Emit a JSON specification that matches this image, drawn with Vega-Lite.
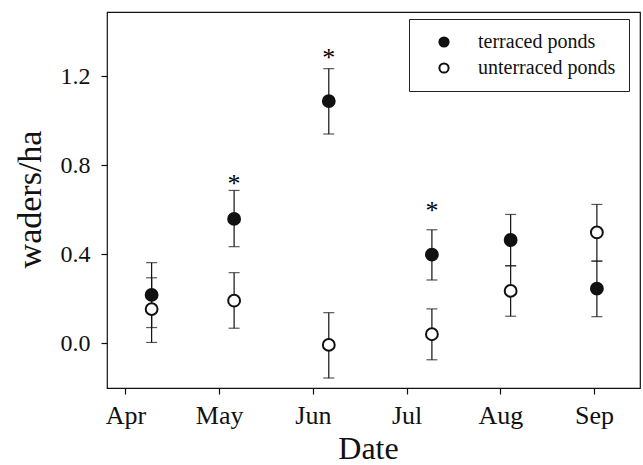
{
  "$schema": "https://vega.github.io/schema/vega-lite/v6.json",
  "width": 533,
  "height": 376,
  "autosize": {"type": "none"},
  "padding": {"left": 107, "top": 12, "right": 3, "bottom": 77},
  "background": "white",
  "config": {
    "font": "Liberation Serif",
    "view": {"stroke": "#111", "strokeWidth": 1.2},
    "axis": {"grid": false, "domain": false, "tickColor": "#111", "tickSize": 6, "tickWidth": 1.2, "labelColor": "#111", "titleColor": "#111", "labelFont": "Liberation Serif", "titleFont": "Liberation Serif", "titleFontWeight": "normal"},
    "legend": {"labelFont": "Liberation Serif"}
  },
  "datasets": {
    "pts": [
      {"series": "terraced ponds", "month": 4.28, "mean": 0.217, "lo": 0.070, "hi": 0.362},
      {"series": "terraced ponds", "month": 5.16, "mean": 0.559, "lo": 0.434, "hi": 0.687},
      {"series": "terraced ponds", "month": 6.17, "mean": 1.089, "lo": 0.941, "hi": 1.235},
      {"series": "terraced ponds", "month": 7.27, "mean": 0.398, "lo": 0.284, "hi": 0.510},
      {"series": "terraced ponds", "month": 8.11, "mean": 0.464, "lo": 0.348, "hi": 0.579},
      {"series": "terraced ponds", "month": 9.03, "mean": 0.245, "lo": 0.119, "hi": 0.369},
      {"series": "unterraced ponds", "month": 4.28, "mean": 0.153, "lo": 0.003, "hi": 0.294},
      {"series": "unterraced ponds", "month": 5.16, "mean": 0.191, "lo": 0.067, "hi": 0.317},
      {"series": "unterraced ponds", "month": 6.17, "mean": -0.008, "lo": -0.157, "hi": 0.137},
      {"series": "unterraced ponds", "month": 7.27, "mean": 0.040, "lo": -0.075, "hi": 0.154},
      {"series": "unterraced ponds", "month": 8.11, "mean": 0.235, "lo": 0.121, "hi": 0.348},
      {"series": "unterraced ponds", "month": 9.03, "mean": 0.498, "lo": 0.369, "hi": 0.624}
    ],
    "stars": [
      {"month": 5.16, "pos": 0.742, "label": "*"},
      {"month": 6.17, "pos": 1.309, "label": "*"},
      {"month": 7.27, "pos": 0.621, "label": "*"}
    ]
  },
  "encoding": {
    "x": {
      "field": "month", "type": "quantitative",
      "scale": {"domain": [3.804, 9.49], "nice": false, "zero": false},
      "axis": {
        "values": [4, 5, 6, 7, 8, 9],
        "labelExpr": "['Apr','May','Jun','Jul','Aug','Sep'][datum.value - 4]",
        "labelFontSize": 26, "labelPadding": 8, "labelFlush": false,
        "title": "Date", "titleFontSize": 32,
        "titleX": 261, "titleY": 70, "titleBaseline": "alphabetic", "titleAlign": "center"
      }
    }
  },
  "layer": [
    {
      "data": {"name": "pts"},
      "mark": {"type": "rule", "color": "#111", "strokeWidth": 1.2},
      "encoding": {
        "y": {
          "field": "lo", "type": "quantitative",
          "scale": {"domain": [-0.202, 1.49], "nice": false, "zero": false},
          "axis": {
            "values": [0, 0.4, 0.8, 1.2], "format": ".1f",
            "labelFontSize": 24, "labelPadding": 11, "labelFlush": false,
            "title": "waders/ha", "titleFontSize": 34,
            "titleX": -67, "titleY": 187, "titleAngle": -90,
            "titleBaseline": "alphabetic", "titleAlign": "center"
          }
        },
        "y2": {"field": "hi"}
      }
    },
    {
      "data": {"name": "pts"},
      "mark": {"type": "tick", "orient": "horizontal", "color": "#111", "size": 11, "thickness": 1.2},
      "encoding": {"y": {"field": "lo", "type": "quantitative"}}
    },
    {
      "data": {"name": "pts"},
      "mark": {"type": "tick", "orient": "horizontal", "color": "#111", "size": 11, "thickness": 1.2},
      "encoding": {"y": {"field": "hi", "type": "quantitative"}}
    },
    {
      "data": {"name": "pts"},
      "mark": {"type": "point", "shape": "circle", "filled": true, "stroke": "#111", "strokeWidth": 2, "size": 140, "opacity": 1},
      "encoding": {
        "y": {"field": "mean", "type": "quantitative"},
        "fill": {
          "field": "series", "type": "nominal",
          "scale": {"domain": ["terraced ponds", "unterraced ponds"], "range": ["#111", "white"]},
          "legend": {
            "title": null, "orient": "none", "legendX": 302, "legendY": 7,
            "direction": "vertical",
            "fillColor": "white", "strokeColor": "#222",
            "padding": 13, "rowPadding": 6,
            "symbolType": "circle", "symbolSize": 85, "symbolStrokeColor": "#111", "symbolStrokeWidth": 2,
            "symbolOffset": 12, "labelOffset": 24,
            "labelFont": "Liberation Serif", "labelFontSize": 20, "labelColor": "#111", "labelLimit": 300
          }
        }
      }
    },
    {
      "data": {"name": "stars"},
      "mark": {"type": "text", "fontSize": 26, "baseline": "alphabetic", "dy": 14, "color": "black", "font": "Liberation Serif"},
      "encoding": {
        "y": {"field": "pos", "type": "quantitative"},
        "text": {"field": "label"}
      }
    }
  ]
}
